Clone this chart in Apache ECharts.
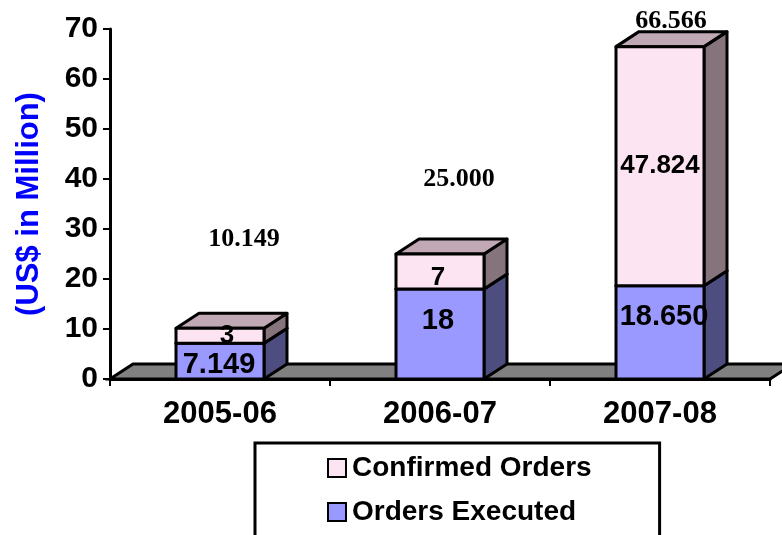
<!DOCTYPE html>
<html>
<head>
<meta charset="utf-8">
<style>
  html, body { margin: 0; padding: 0; background: #fff; }
  #chart { width: 782px; height: 535px; }
</style>
<script src="https://cdn.jsdelivr.net/npm/echarts@6/dist/echarts.min.js"></script>
</head>
<body>
<div id="chart"></div>
<script>
const categories = ['2005-06', '2006-07', '2007-08']
const ordersExecuted = [7.149, 18, 18.650]
const confirmedOrders = [3, 7, 47.824]
const totals = [10.149, 25.000, 66.566]
const executedLabels = ['7.149', '18', '18.650']
const confirmedLabels = ['3', '7', '47.824']
const totalLabels = ['10.149', '25.000', '66.566']

// box look
const DEPTH_X = 23
const DEPTH_Y = -15
const BAR_RATIO = 0.4
const LINE = 3
const SANS = '"Liberation Sans", Arial, sans-serif'
const SERIF = '"Liberation Serif", "Times New Roman", serif'

// the labels do not sit centred in the original, nudge them by hand
const executedNudge = [[-1, 4], [-2, -13], [4, -15]]
const confirmedNudge = [[7, 0], [-2, 6], [0, 0]]
const totalNudge = [[24, -89], [19, -75], [11, -25]]

function box(api, idx, low, high, colors, label, nudge, fontSize) {
  const half = api.size([1, 0])[0] * BAR_RATIO / 2
  const [cx, y0] = api.coord([idx, low])
  const y1 = api.coord([idx, high])[1]
  const l = cx - half
  const r = cx + half
  const stroke = { stroke: '#000', lineWidth: LINE, lineJoin: 'round' }
  return {
    type: 'group',
    children: [
      { type: 'polygon', shape: { points: [[r, y0], [r + DEPTH_X, y0 + DEPTH_Y], [r + DEPTH_X, y1 + DEPTH_Y], [r, y1]] }, style: { fill: colors.side, ...stroke } },
      { type: 'polygon', shape: { points: [[l, y1], [l + DEPTH_X, y1 + DEPTH_Y], [r + DEPTH_X, y1 + DEPTH_Y], [r, y1]] }, style: { fill: colors.top, ...stroke } },
      { type: 'rect', shape: { x: l, y: y1, width: r - l, height: y0 - y1 }, style: { fill: colors.front, ...stroke } },
      {
        type: 'text', z2: 10,
        style: {
          x: cx + nudge[0], y: (y0 + y1) / 2 + nudge[1], text: label,
          align: 'center', verticalAlign: 'middle',
          font: `bold ${fontSize}px ${SANS}`, fill: '#000'
        }
      }
    ]
  }
}

const pink = { front: '#fde4f2', side: '#86747c', top: '#c0a9b4' }
const blue = { front: '#9999ff', side: '#4d4d80', top: '#4d4d80' }

const chart = echarts.init(document.getElementById('chart'), null, { renderer: 'canvas' })

chart.setOption({
  animation: false,
  grid: { left: 110, right: 12, top: 29, bottom: 156 },
  legend: {
    data: ['Confirmed Orders', 'Orders Executed'],
    orient: 'vertical',
    left: 255,
    top: 443,
    height: 300,
    padding: [11, 68, 60, 72],
    itemGap: 16,
    itemWidth: 18,
    itemHeight: 18,
    icon: 'rect',
    selectedMode: false,
    borderColor: '#000',
    borderWidth: 3,
    itemStyle: { borderColor: '#000', borderWidth: 2 },
    textStyle: { fontFamily: SANS, fontWeight: 'bold', fontSize: 28, color: '#000', padding: [0, 0, 0, 1] }
  },
  xAxis: {
    type: 'category',
    data: categories,
    axisLine: { lineStyle: { color: '#000', width: LINE } },
    axisTick: { show: true, length: 7, lineStyle: { color: '#000', width: 2 } },
    axisLabel: { fontFamily: SANS, fontWeight: 'bold', fontSize: 31, color: '#000', margin: 20 }
  },
  yAxis: {
    type: 'value',
    min: 0,
    max: 70,
    interval: 10,
    name: '(US$ in Million)',
    nameLocation: 'middle',
    nameGap: 65,
    nameTextStyle: { fontFamily: SANS, fontWeight: 'bold', fontSize: 31, color: '#0000ff' },
    splitLine: { show: false },
    axisLine: { show: true, lineStyle: { color: '#000', width: LINE } },
    axisTick: { show: true, length: 7, lineStyle: { color: '#000', width: 2 } },
    axisLabel: { fontFamily: SANS, fontWeight: 'bold', fontSize: 30, color: '#000', margin: 12, padding: [6, 0, 0, 0] }
  },
  series: [
    {
      // chart floor
      name: 'floor',
      type: 'custom',
      silent: true,
      clip: false,
      z: 1,
      data: [0],
      renderItem(params, api) {
        const step = api.size([1, 0])[0]
        const [first, y0] = api.coord([0, 0])
        const x0 = first - step / 2
        const x1 = x0 + step * categories.length
        return {
          type: 'polygon',
          shape: { points: [[x0, y0], [x0 + DEPTH_X, y0 + DEPTH_Y], [x1 + DEPTH_X, y0 + DEPTH_Y], [x1, y0]] },
          style: { fill: '#808080', stroke: '#000', lineWidth: LINE }
        }
      }
    },
    {
      name: 'Orders Executed',
      type: 'custom',
      silent: true,
      clip: false,
      z: 3,
      itemStyle: { color: blue.front },
      data: ordersExecuted,
      renderItem(params, api) {
        const i = params.dataIndex
        return box(api, i, 0, ordersExecuted[i], blue, executedLabels[i], executedNudge[i], 29)
      }
    },
    {
      name: 'Confirmed Orders',
      type: 'custom',
      silent: true,
      clip: false,
      z: 4,
      itemStyle: { color: pink.front },
      data: confirmedOrders,
      renderItem(params, api) {
        const i = params.dataIndex
        const base = ordersExecuted[i]
        return box(api, i, base, base + confirmedOrders[i], pink, confirmedLabels[i], confirmedNudge[i], 26)
      }
    },
    {
      name: 'Total',
      type: 'custom',
      silent: true,
      clip: false,
      z: 5,
      data: totals,
      renderItem(params, api) {
        const i = params.dataIndex
        const [x, y] = api.coord([i, totals[i]])
        return {
          type: 'text',
          style: {
            x: x + totalNudge[i][0], y: y + totalNudge[i][1], text: totalLabels[i],
            align: 'center', verticalAlign: 'middle',
            font: `bold 26px ${SERIF}`, fill: '#000'
          }
        }
      }
    }
  ]
})
</script>
</body>
</html>
